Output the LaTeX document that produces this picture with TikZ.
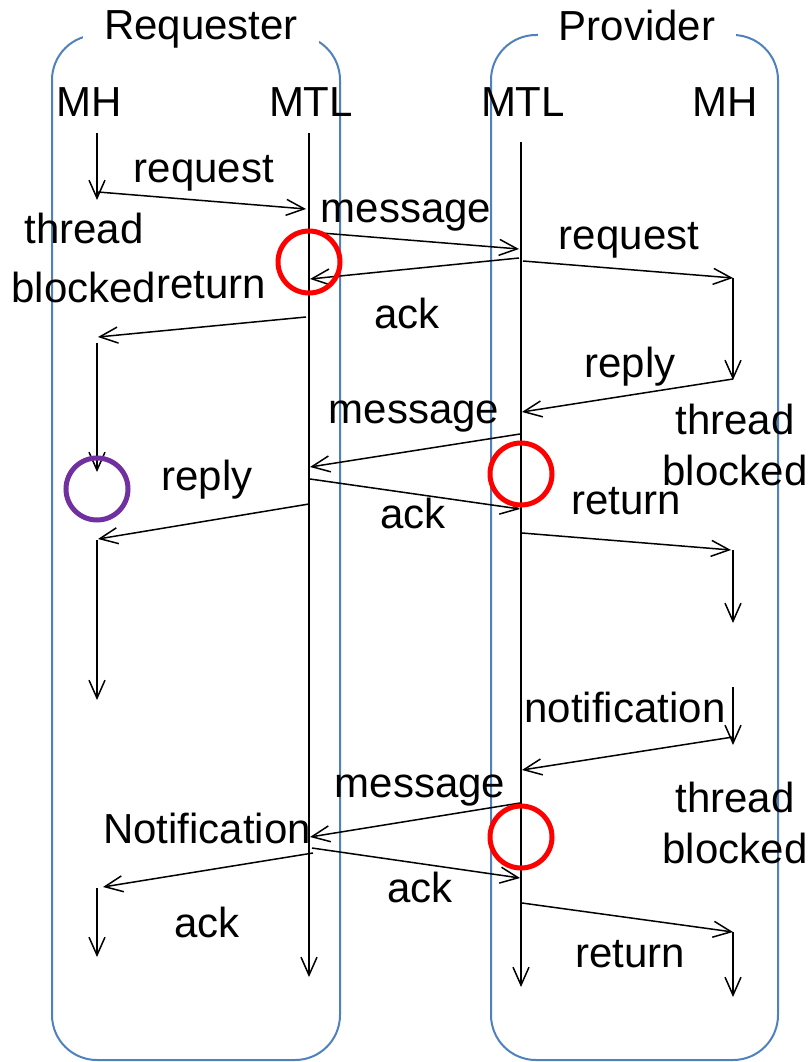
\documentclass[tikz,border=0pt]{standalone}
\usepackage{fontspec}
\setmainfont{Liberation Sans}
\usetikzlibrary{arrows.meta}
\definecolor{laneblue}{RGB}{79,129,189}
\definecolor{blockred}{RGB}{255,0,0}
\definecolor{waitpurple}{RGB}{112,48,160}

\begin{document}
\begin{tikzpicture}[x=1pt, y=-1pt, line width=1.5pt,
    >={Straight Barb[length=18pt, width=16pt]},
    lbl/.style={anchor=base, inner sep=0pt, font=\fontsize{42}{50}\selectfont},
    title/.style={lbl, fill=white, inner xsep=21pt, inner ysep=8pt},
    lane/.style={draw=laneblue, line width=2pt, rounded corners=45pt},
    block/.style={draw=blockred, line width=5pt},
    wait/.style={draw=waitpurple, line width=5pt}]
  \useasboundingbox (0,0) rectangle (811,1062);

  % the two sides
  \draw [lane] (52,35) rectangle (340,1060);
  \draw [lane] (491,35) rectangle (778,1060);
  \node (requester) [title] at (201,40) {Requester};
  \node (provider) [title] at (637,41) {Provider};

  \node (rmh) [lbl] at (89,117) {MH};
  \node (rmtl) [lbl] at (311,117) {MTL};
  \node (pmtl) [lbl] at (523,117) {MTL};
  \node (pmh) [lbl] at (725,117) {MH};

  % lifelines
  \coordinate (rh0) at (97,133); \coordinate (rh1) at (97,200);
  \coordinate (rh2) at (97,343); \coordinate (rh3) at (97,472);
  \coordinate (rh4) at (97,540); \coordinate (rh5) at (97,700);
  \coordinate (rh6) at (97,888); \coordinate (rh7) at (97,957);
  \coordinate (rt0) at (309,133); \coordinate (rt1) at (309,977);
  \coordinate (pt0) at (521,142); \coordinate (pt1) at (521,987);
  \coordinate (ph0) at (733,278); \coordinate (ph1) at (733,380);
  \coordinate (ph2) at (733,550); \coordinate (ph3) at (733,623);
  \coordinate (ph4) at (733,687); \coordinate (ph5) at (733,745);
  \coordinate (ph6) at (733,932); \coordinate (ph7) at (733,997);
  \draw [->] (rh0) -- (rh1);
  \draw [->] (rh2) -- (rh3);
  \draw [->] (rh4) -- (rh5);
  \draw [->] (rh6) -- (rh7);
  \draw [->] (rt0) -- (rt1);
  \draw [->] (pt0) -- (pt1);
  \draw [->] (ph0) -- (ph1);
  \draw [->] (ph2) -- (ph3);
  \draw [->] (ph4) -- (ph5);
  \draw [->] (ph6) -- (ph7);

  % messages
  \coordinate (m1-a) at (98,192);   \coordinate (m1-b) at (306,209);
  \coordinate (m2-a) at (309,232);  \coordinate (m2-b) at (519,249);
  \coordinate (m3-a) at (519,258);  \coordinate (m3-b) at (310,279);
  \coordinate (m4-a) at (523,261);  \coordinate (m4-b) at (733,278);
  \coordinate (m5-a) at (306,317);  \coordinate (m5-b) at (98,337);
  \coordinate (m6-a) at (733,379);  \coordinate (m6-b) at (522,412);
  \coordinate (m7-a) at (520,434);  \coordinate (m7-b) at (310,467);
  \coordinate (m8-a) at (310,479);  \coordinate (m8-b) at (520,509);
  \coordinate (m9-a) at (309,504);  \coordinate (m9-b) at (98,539);
  \coordinate (m10-a) at (522,533); \coordinate (m10-b) at (731,550);
  \coordinate (m11-a) at (733,737); \coordinate (m11-b) at (522,770);
  \coordinate (m12-a) at (520,803); \coordinate (m12-b) at (310,837);
  \coordinate (m13-a) at (312,848); \coordinate (m13-b) at (520,878);
  \coordinate (m14-a) at (313,853); \coordinate (m14-b) at (103,887);
  \coordinate (m15-a) at (522,903); \coordinate (m15-b) at (733,932);
  \foreach \i in {1,...,15}
    \draw [->] (m\i-a) -- (m\i-b);

  % blocked / waiting marks
  \draw [block] (309,262) circle [radius=31pt];
  \draw [block] (521,474) circle [radius=31pt];
  \draw [block] (521,837) circle [radius=31pt];
  \draw [wait] (97,489) circle [radius=31pt];

  \node (req1) [lbl] at (204,182) {request};
  \node (msg1) [lbl] at (406,222) {message};
  \node (thr1) [lbl] at (84,243) {thread};
  \node (blk1) [lbl] at (84,302) {blocked};
  \node (ret1) [lbl] at (211,298) {return};
  \node (req2) [lbl] at (629,249) {request};
  \node (ack1) [lbl] at (407,328) {ack};
  \node (rep1) [lbl] at (630,377) {reply};
  \node (msg2) [lbl] at (414,423) {message};
  \node (thr2) [lbl] at (735,434) {thread};
  \node (blk2) [lbl] at (735,485) {blocked};
  \node (rep2) [lbl] at (207,490) {reply};
  \node (ack2) [lbl] at (413,528) {ack};
  \node (ret2) [lbl] at (626,514) {return};
  \node (not1) [lbl] at (625,722) {notification};
  \node (msg3) [lbl] at (420,797) {message};
  \node (thr3) [lbl] at (735,812) {thread};
  \node (blk3) [lbl] at (735,863) {blocked};
  \node (not2) [lbl] at (207,843) {Notification};
  \node (ack3) [lbl] at (420,902) {ack};
  \node (ack4) [lbl] at (207,937) {ack};
  \node (ret3) [lbl] at (630,967) {return};
\end{tikzpicture}
\end{document}
